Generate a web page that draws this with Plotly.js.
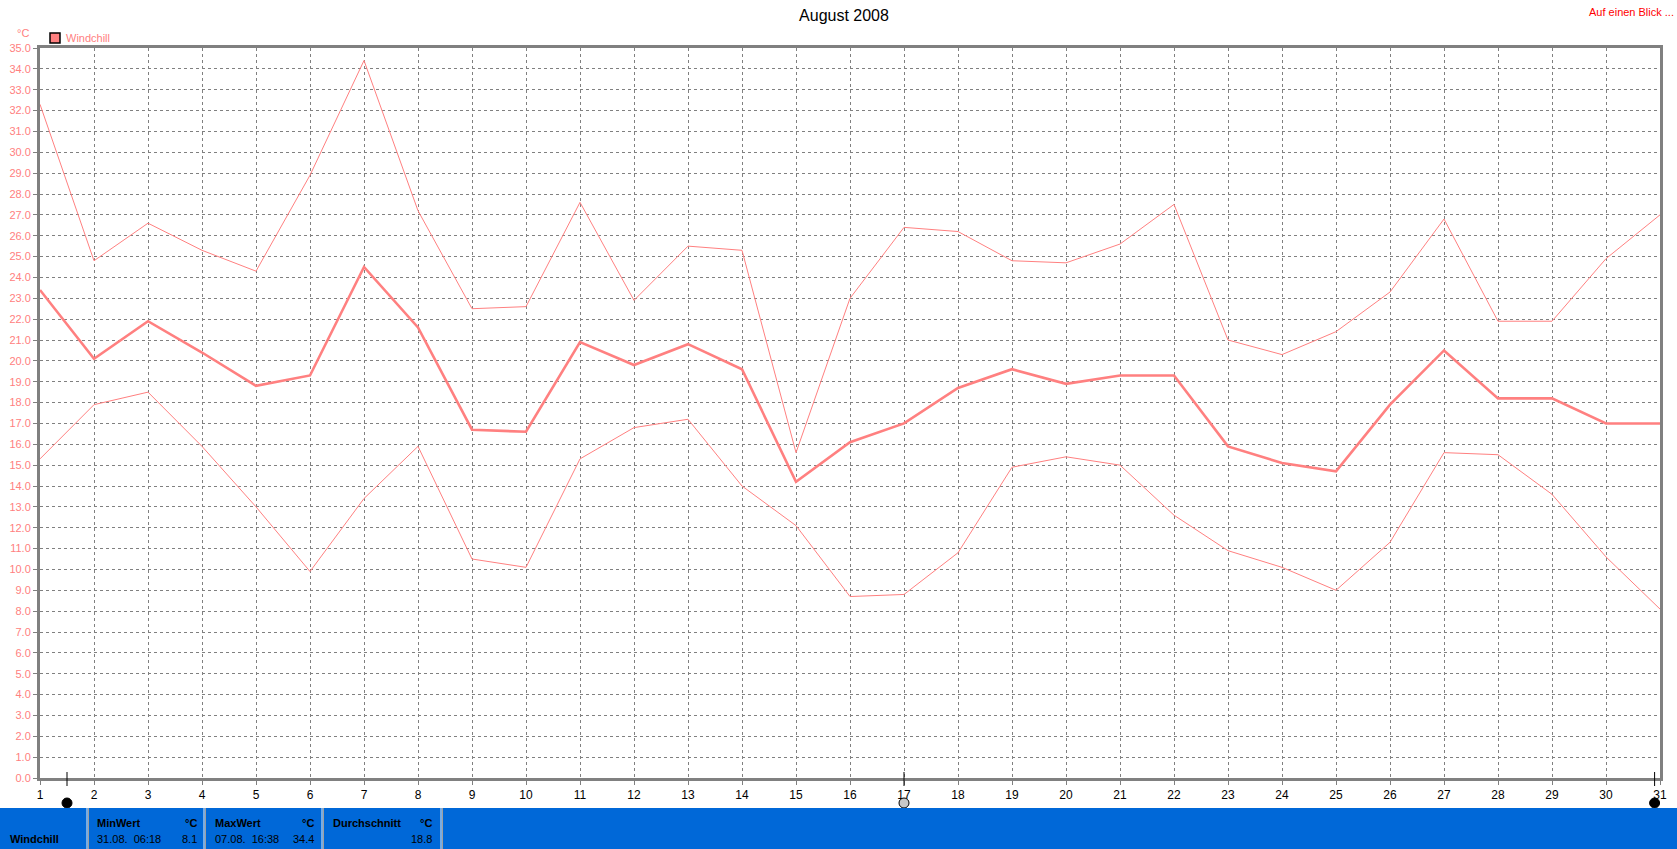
<!DOCTYPE html>
<html>
<head>
<meta charset="utf-8">
<script src="https://cdn.plot.ly/plotly-3.0.1.min.js"></script>
<style>
html,body{margin:0;padding:0;background:#fff;}
#chart{width:1677px;height:849px;}
</style>
</head>
<body>
<div id="chart"></div>
<script>
// ---- data ----
const days = [1,2,3,4,5,6,7,8,9,10,11,12,13,14,15,16,17,18,19,20,21,22,23,24,25,26,27,28,29,30,31];
const maxVals = [32.3,24.8,26.6,25.3,24.3,28.9,34.4,27.2,22.5,22.6,27.6,22.9,25.5,25.3,15.6,23.0,26.4,26.2,24.8,24.7,25.6,27.5,21.0,20.3,21.4,23.3,26.8,21.9,21.9,24.9,27.0];
const avgVals = [23.4,20.1,21.9,20.4,18.8,19.3,24.5,21.6,16.7,16.6,20.9,19.8,20.8,19.6,14.2,16.1,17.0,18.7,19.6,18.9,19.3,19.3,15.9,15.1,14.7,17.9,20.5,18.2,18.2,17.0,17.0];
const minVals = [15.3,17.9,18.5,15.9,13.0,9.9,13.4,15.9,10.5,10.1,15.3,16.8,17.2,14.0,12.1,8.7,8.8,10.8,14.9,15.4,15.0,12.6,10.9,10.1,9.0,11.3,15.6,15.5,13.6,10.6,8.1];
const seriesName = 'Windchill';
const unitLabel = '°C';
const chartTitle = 'August 2008';
const linkText = 'Auf einen Blick ...';
const statLabels = ['MinWert','MaxWert','Durchschnitt'];
const statTimes = ['31.08.\u00a0 06:18','07.08.\u00a0 16:38',''];
const statValues = ['8.1','34.4','18.8'];
const sliderMarks = [1.5, 17, 30.9];

// ---- geometry helpers (page pixels -> paper) ----
const L = 40, R = 1660, T = 48, B = 778;
const px = x => (x - L) / (R - L);
const py = y => (B - y) / (B - T);

const pink = '#ff8080';
const font = 'Liberation Sans, Arial, sans-serif';

const traces = [
  {x: days, y: maxVals, type: 'scatter', mode: 'lines', line: {color: pink, width: 1}, hoverinfo: 'skip', showlegend: false},
  {x: days, y: minVals, type: 'scatter', mode: 'lines', line: {color: pink, width: 1}, hoverinfo: 'skip', showlegend: false},
  {x: days, y: avgVals, type: 'scatter', mode: 'lines', line: {color: pink, width: 2.6}, hoverinfo: 'skip', showlegend: false}
];

const shapes = [];
const annotations = [];

// legend square
shapes.push({type: 'rect', xref: 'paper', yref: 'paper', x0: px(50), x1: px(60), y0: py(43), y1: py(33),
  fillcolor: pink, line: {color: '#000', width: 1.5}, layer: 'above'});
annotations.push({xref: 'paper', yref: 'paper', x: px(64), y: py(38), text: seriesName, showarrow: false,
  xanchor: 'left', yanchor: 'middle', font: {family: font, size: 11, color: pink}});
annotations.push({xref: 'paper', yref: 'paper', x: px(31), y: py(33), text: unitLabel, showarrow: false,
  xanchor: 'right', yanchor: 'middle', font: {family: font, size: 11, color: pink}});
annotations.push({xref: 'paper', yref: 'paper', x: px(1676), y: py(12), text: linkText, showarrow: false,
  xanchor: 'right', yanchor: 'middle', font: {family: font, size: 11, color: '#ff0000'}});

// slider marks
sliderMarks.forEach((d, i) => {
  shapes.push({type: 'line', xref: 'x', yref: 'paper', x0: d, x1: d, y0: py(772), y1: py(786), line: {color: '#000', width: 1}, layer: 'above'});
  shapes.push({type: 'circle', xref: 'x', yref: 'paper', xsizemode: 'pixel', ysizemode: 'pixel', xanchor: d, yanchor: py(803),
    x0: -5, x1: 5, y0: -5, y1: 5, fillcolor: i === 1 ? '#c8c8c8' : '#000', line: {color: '#000', width: 1}, layer: 'above'});
});

// bottom blue bar
shapes.push({type: 'rect', xref: 'paper', yref: 'paper', x0: px(0), x1: px(1677), y0: py(808), y1: py(849),
  fillcolor: '#0068d8', line: {width: 0}, layer: 'above'});
[87, 204, 322, 441].forEach(sx => {
  shapes.push({type: 'line', xref: 'paper', yref: 'paper', x0: px(sx), x1: px(sx), y0: py(808), y1: py(849), line: {color: '#f0f0f0', width: 1}, layer: 'above'});
  shapes.push({type: 'line', xref: 'paper', yref: 'paper', x0: px(sx + 1.5), x1: px(sx + 1.5), y0: py(808), y1: py(849), line: {color: '#a0a0a0', width: 1}, layer: 'above'});
});
annotations.push({xref: 'paper', yref: 'paper', x: px(8), y: py(839), text: '<b>' + seriesName + '</b>', showarrow: false,
  xanchor: 'left', yanchor: 'middle', font: {family: font, size: 11, color: '#000'}});
const cellLeft = [95, 213, 331];
const cellRight = [199, 316, 434];
statLabels.forEach((lab, i) => {
  annotations.push({xref: 'paper', yref: 'paper', x: px(cellLeft[i]), y: py(823), text: '<b>' + lab + '</b>', showarrow: false,
    xanchor: 'left', yanchor: 'middle', font: {family: font, size: 11, color: '#000'}});
  annotations.push({xref: 'paper', yref: 'paper', x: px(cellRight[i]), y: py(823), text: '<b>' + unitLabel + '</b>', showarrow: false,
    xanchor: 'right', yanchor: 'middle', font: {family: font, size: 11, color: '#000'}});
  if (statTimes[i]) {
    annotations.push({xref: 'paper', yref: 'paper', x: px(cellLeft[i]), y: py(839), text: statTimes[i], showarrow: false,
      xanchor: 'left', yanchor: 'middle', font: {family: font, size: 11, color: '#000'}});
  }
  annotations.push({xref: 'paper', yref: 'paper', x: px(cellRight[i]), y: py(839), text: statValues[i], showarrow: false,
    xanchor: 'right', yanchor: 'middle', font: {family: font, size: 11, color: '#000'}});
});

const layout = {
  width: 1677, height: 849,
  margin: {l: L, r: 1677 - R, t: T, b: 849 - B, pad: 0},
  paper_bgcolor: '#fff', plot_bgcolor: '#fff',
  showlegend: false,
  title: {text: chartTitle, xref: 'container', yref: 'container', x: 844 / 1677, y: 1 - 15 / 849,
    xanchor: 'center', yanchor: 'middle', font: {family: font, size: 16, color: '#000'}},
  xaxis: {range: [1, 31], tickmode: 'linear', tick0: 1, dtick: 1, showgrid: true, gridcolor: '#808080', gridwidth: 1,
    griddash: '3px,3px', showline: true, linecolor: '#808080', linewidth: 3, mirror: true, zeroline: false,
    ticks: 'outside', ticklen: 4, tickcolor: '#808080', tickfont: {family: font, size: 12, color: '#000'}, fixedrange: true},
  yaxis: {range: [0, 35], tickmode: 'linear', tick0: 0, dtick: 1, tickformat: '.1f', showgrid: true, gridcolor: '#808080', gridwidth: 1,
    griddash: '3px,3px', showline: true, linecolor: '#808080', linewidth: 3, mirror: true, zeroline: false,
    ticks: 'outside', ticklen: 4, tickcolor: '#808080', tickfont: {family: font, size: 11, color: pink}, fixedrange: true},
  shapes: shapes,
  annotations: annotations
};

Plotly.newPlot('chart', traces, layout, {displayModeBar: false, staticPlot: true});
</script>
</body>
</html>
